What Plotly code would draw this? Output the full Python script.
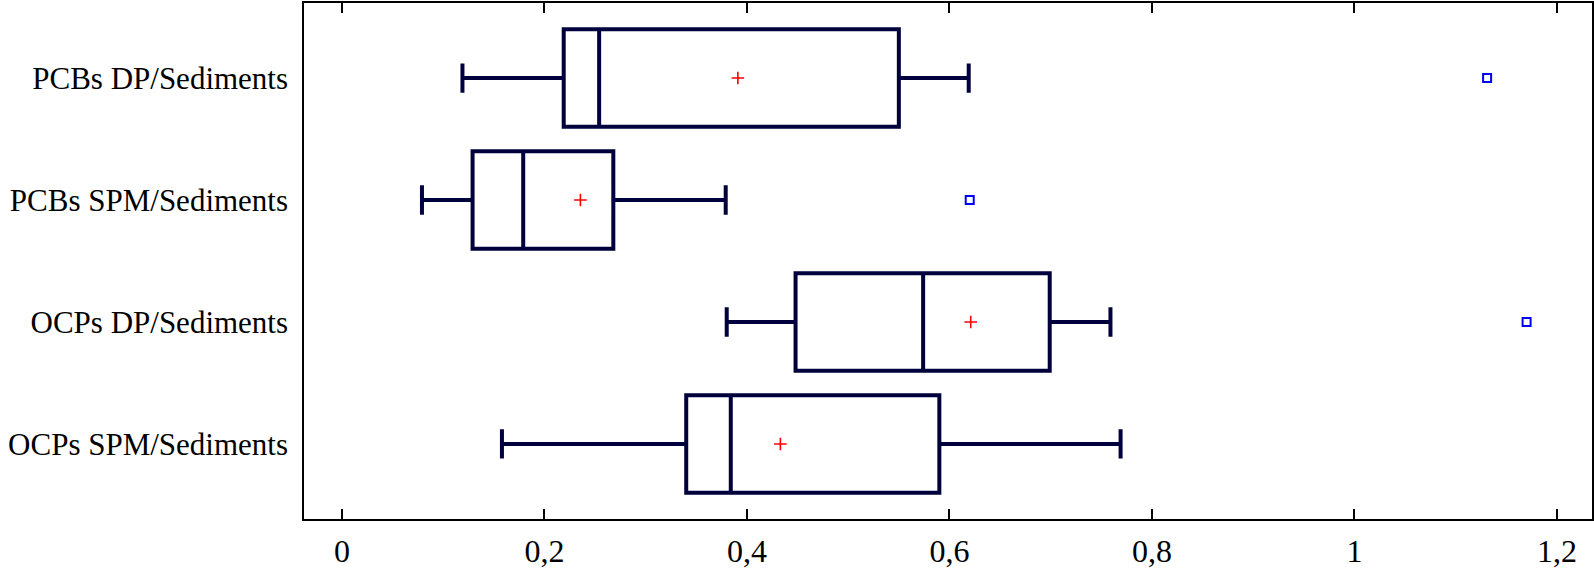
import plotly.graph_objects as go

categories = ["PCBs DP/Sediments", "PCBs SPM/Sediments", "OCPs DP/Sediments", "OCPs SPM/Sediments"]
positions = [3, 2, 1, 0]
lower_whisker = [0.119, 0.079, 0.380, 0.158]
q1 = [0.219, 0.129, 0.448, 0.340]
median = [0.254, 0.179, 0.574, 0.384]
q3 = [0.550, 0.268, 0.699, 0.590]
upper_whisker = [0.619, 0.379, 0.759, 0.769]
means = [0.391, 0.2355, 0.621, 0.433]
outlier_x = [1.131, 0.620, 1.170]
outlier_pos = [3, 2, 1]
x_ticks = [0, 0.2, 0.4, 0.6, 0.8, 1.0, 1.2]
x_ticktext = ["0", "0,2", "0,4", "0,6", "0,8", "1", "1,2"]

navy = "#00003c"
font = "Liberation Serif, Times New Roman, serif"

fig = go.Figure()
fig.add_trace(go.Box(
    orientation="h",
    y=positions,
    q1=q1, median=median, q3=q3,
    lowerfence=lower_whisker, upperfence=upper_whisker,
    width=0.8, whiskerwidth=0.3,
    line=dict(color=navy, width=4),
    fillcolor="white",
    boxpoints=False,
    showlegend=False,
    hoverinfo="skip",
))
fig.add_trace(go.Scatter(
    x=means, y=positions, mode="markers",
    marker=dict(symbol="cross-thin", size=9, line=dict(color="red", width=1.6), color="red"),
    showlegend=False,
))
fig.add_trace(go.Scatter(
    x=outlier_x, y=outlier_pos, mode="markers",
    marker=dict(symbol="square-open", size=8, line=dict(color="blue", width=2), color="blue"),
    showlegend=False,
))

fig.update_layout(
    width=1594, height=570,
    margin=dict(l=304, r=2, t=3, b=51),
    paper_bgcolor="white", plot_bgcolor="white",
    font=dict(family=font, size=32, color="black"),
    separators=",.",
    showlegend=False,
)
fig.update_xaxes(
    range=[-0.0375, 1.2346],
    tickvals=x_ticks, ticktext=x_ticktext,
    ticks="inside", ticklen=10, tickwidth=1.5, tickcolor="black",
    showline=True, linecolor="black", linewidth=1.5, mirror="ticks",
    showgrid=False, zeroline=False, automargin=False,
    tickfont=dict(family=font, size=32, color="black"),
    ticklabelstandoff=3,
)
fig.update_yaxes(
    range=[-0.615, 3.615],
    tickvals=positions, ticktext=categories,
    ticks="", showline=True, linecolor="black", linewidth=1.5, mirror=True,
    showgrid=False, zeroline=False, automargin=False,
    tickfont=dict(family=font, size=31, color="black"),
    ticklabelstandoff=8,
)

fig.write_html(
    "out.html",
    config={"displayModeBar": False},
    post_script="document.body.style.margin='0';document.body.style.overflow='hidden';",
)
